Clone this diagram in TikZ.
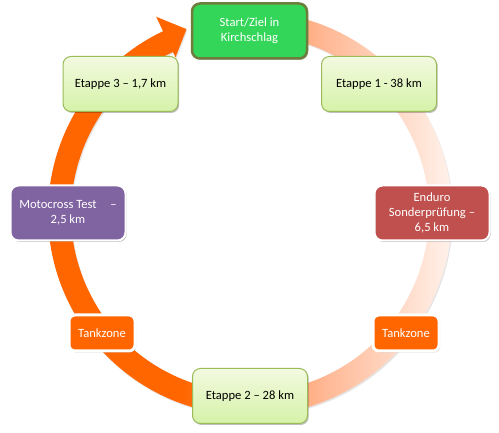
\documentclass[tikz,border=0pt]{standalone}
\usepackage{fontspec}
\setmainfont{Carlito}
\usetikzlibrary{shadows}
\definecolor{ringA}{RGB}{255,102,0}
\definecolor{ringB}{RGB}{255,140,70}
\definecolor{ringC}{RGB}{255,185,150}
\definecolor{ringD}{RGB}{255,242,235}
\definecolor{startG}{RGB}{52,214,90}
\definecolor{startB}{RGB}{110,125,60}
\definecolor{etBorder}{RGB}{155,187,89}
\definecolor{etTop}{RGB}{242,250,224}
\definecolor{etBot}{RGB}{214,242,168}
\definecolor{mocoP}{RGB}{128,100,162}
\definecolor{endR}{RGB}{192,80,77}
\pgfdeclarehorizontalshading{ringshade}{100bp}{color(0bp)=(ringA); color(42bp)=(ringA); color(50bp)=(ringB); color(59bp)=(ringC); color(74bp)=(ringD); color(100bp)=(ringD)}
\tikzset{
  basebox/.style={rounded corners=8pt, minimum width=115pt, minimum height=55pt, align=center, inner sep=2pt,
    font=\fontsize{12.6}{15}\selectfont,
    drop shadow={shadow xshift=1.2pt, shadow yshift=-1.5pt, opacity=0.25, fill=black}},
  etappe/.style={basebox, draw=etBorder, line width=1pt, top color=etTop, bottom color=etBot, text=black},
  startbox/.style={basebox, fill=startG, draw=startB, line width=2.5pt, text=white},
  colbox/.style={basebox, draw=white, line width=2pt, text=white},
  tankbox/.style={rounded corners=6pt, minimum width=66pt, minimum height=36pt, inner sep=2pt,
    fill=ringA, draw=white, line width=3pt, text=white, font=\fontsize{12.6}{15}\selectfont,
    drop shadow={shadow xshift=1.2pt, shadow yshift=-1.5pt, opacity=0.25, fill=black}}
}
\begin{document}
\begin{tikzpicture}[x=1pt,y=1pt]
\useasboundingbox (0,0) rectangle (499,433);
\begin{scope}[shift={(250,219.5)}]
  \fill[black,opacity=0.10,shift={(1,-1.5)}] (85:202) arc[start angle=85, end angle=-245, radius=202]
     -- (115.5:218) -- (109:195) -- (115.5:173) -- (115.5:179)
     arc[start angle=-244.5, end angle=85, radius=179] -- cycle;
  \shade[shading=ringshade] (85:202) arc[start angle=85, end angle=-244.5, radius=202]
     -- (115.5:218) -- (109:195) -- (115.5:173) -- (115.5:179)
     arc[start angle=-244.5, end angle=85, radius=179] -- cycle;
\end{scope}
\node[startbox] (start) at (249.5,402) {Start/Ziel in\\Kirchschlag};
\node[etappe] (e1) at (379,349) {Etappe 1 - 38 km};
\node[etappe] (e3) at (120.5,349) {Etappe 3 – 1,7 km};
\node[colbox, fill=mocoP] (moto) at (68,220) {Motocross Test\hspace{1.1em}–\\2,5 km};
\node[colbox, fill=endR] (enduro) at (432,220) {Enduro\\Sonderprüfung –\\6,5 km};
\node[tankbox] (tl) at (102,100) {Tankzone};
\node[tankbox] (tr) at (406,100) {Tankzone};
\node[etappe] (e2) at (250,37) {Etappe 2 – 28 km};
\end{tikzpicture}
\end{document}
